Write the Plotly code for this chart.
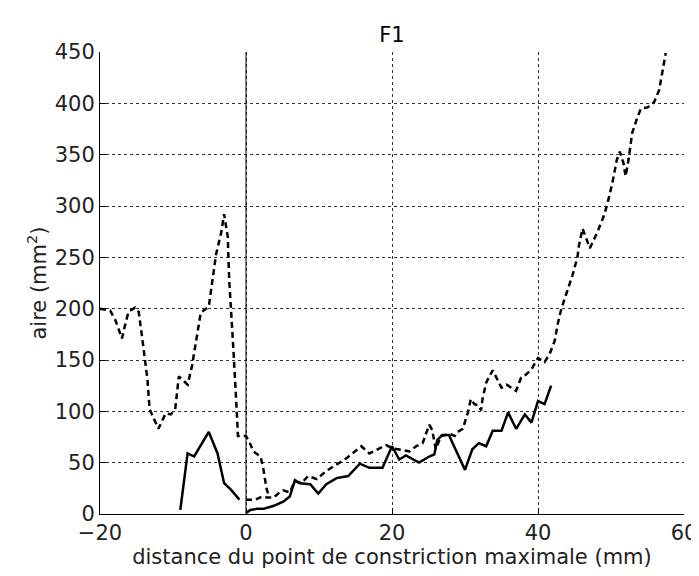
import plotly.graph_objects as go

# courbe pointillée, côté négatif (jusqu'à la jonction vers x=3)
x_tirets_a = [-20, -18.6, -17.9, -17, -16.6, -16.1, -15.2, -14.7, -14.3, -13.8, -13.5, -13.2,
              -12.0, -11.0, -10.3, -9.7, -9.2, -8.0, -7.4, -6.2, -5.1, -4.1, -3.4, -3.0,
              -2.5, -2.3, -2.1, -1.75, -1.4, -1.1, 0, 0.6, 1.0, 2.0, 2.4, 2.8, 3.2]
y_tirets_a = [200, 198, 189, 171, 183, 197, 201, 197, 176, 150, 131, 102,
              83, 98, 97, 102, 134, 126, 144, 196, 202, 253, 274, 292,
              270, 228, 199, 163, 118, 76, 76, 68, 61, 56, 43, 25, 16]

# courbe pointillée, côté positif
x_tirets_b = [0, 1.3, 2.2, 2.9, 3.8, 4.4, 5.1, 6.0, 6.7, 7.6, 8.5, 9.7, 11.0, 12.4, 13.5,
              14.6, 15.8, 16.9, 18.3, 19.2, 20.1, 21.0, 22.4, 23.3, 24.2, 25.1, 25.5,
              26.0, 26.7, 27.3, 27.9, 28.6, 28.8, 29.7, 30.4, 30.8, 31.3, 31.8, 32.2,
              32.4, 32.9, 33.8, 34.5, 35.0, 35.7, 36.3, 37.0, 37.7, 38.4, 39.1, 40.0,
              40.9, 41.6, 42.3, 42.7, 43.2, 44.0, 44.7, 45.4, 45.6, 46.1, 46.6, 47.1,
              48.1, 49.0, 49.5, 50.2, 50.8, 51.2, 51.7, 52.0, 52.4, 52.9, 53.6, 54.1,
              55.0, 55.9, 56.6, 57.0, 57.5]
y_tirets_b = [14, 14, 17, 16, 16, 20, 23, 21, 32, 30, 37, 34, 42, 48, 53,
              59, 66, 59, 64, 67, 64, 63, 61, 66, 69, 87, 82,
              63, 76, 77, 78, 76, 79, 83, 99, 112, 107, 106, 101,
              112, 128, 140, 130, 123, 126, 123, 120, 133, 136, 141, 152,
              148, 156, 169, 185, 200, 216, 232, 250, 261, 278, 268, 259,
              274, 290, 302, 323, 345, 353, 342, 329, 345, 371, 386, 395,
              396, 401, 413, 428, 449]

# courbe continue, côté négatif
x_plein_a = [-9.0, -8.0, -7.1, -5.1, -3.9, -3.0, -2.1, -0.9]
y_plein_a = [4, 59, 56, 80, 59, 30, 24, 14]

# courbe continue, côté positif
x_plein_b = [0, 0.6, 1.5, 2.4, 3.8, 5.1, 6.0, 6.7, 7.4, 8.8, 9.9, 11.0, 12.4, 14.0,
             15.6, 16.9, 18.7, 20.0, 21.0, 21.9, 23.7, 25.1, 25.8, 26.2, 26.9, 27.8,
             28.5, 30.0, 31.0, 31.9, 32.9, 33.8, 35.0, 35.9, 37.0, 38.2, 39.1, 40.0,
             40.9, 41.8]
y_plein_b = [1, 4, 5, 5, 8, 12, 17, 33, 30, 29, 20, 29, 35, 37,
             49, 45, 45, 66, 53, 57, 50, 56, 58, 72, 77, 77,
             66, 43, 63, 69, 66, 81, 81, 99, 83, 97, 89, 110,
             107, 125]

x_ticks = [-20, 0, 20, 40, 60]
y_ticks = [0, 50, 100, 150, 200, 250, 300, 350, 400, 450]

police = "DejaVu Sans"
tirets = dict(color="black", width=2.5, dash="6px,4px")
plein = dict(color="black", width=2.5)

fig = go.Figure()
fig.add_trace(go.Scatter(x=x_tirets_a, y=y_tirets_a, mode="lines", line=tirets))
fig.add_trace(go.Scatter(x=x_tirets_b, y=y_tirets_b, mode="lines", line=tirets))
fig.add_trace(go.Scatter(x=x_plein_a, y=y_plein_a, mode="lines", line=plein))
fig.add_trace(go.Scatter(x=x_plein_b, y=y_plein_b, mode="lines", line=plein))

# ligne verticale au point de constriction
fig.add_shape(type="line", x0=0, x1=0, y0=0, y1=450, xref="x", yref="y",
              line=dict(color="black", width=1))

axe = dict(showline=True, linecolor="black", linewidth=1, mirror=False,
           showgrid=True, gridcolor="#333333", gridwidth=1, griddash="3px,3px",
           zeroline=False, ticks="inside", ticklen=6, tickcolor="black",
           automargin=False,
           tickfont=dict(family=police, size=21, color="#222"))

# la page ajoute 8 px de marge autour de la figure : figure réduite d'autant
fig.update_layout(
    width=691, height=568,
    margin=dict(l=92, r=15, t=44, b=62),
    plot_bgcolor="white", paper_bgcolor="white",
    showlegend=False,
    title=dict(text="F1", x=0.5, xref="paper", xanchor="center",
               y=0.953, yanchor="middle",
               font=dict(family=police, size=21, color="black")),
    xaxis=dict(axe, range=[-20, 60], tickvals=x_ticks,
               title=dict(text="distance du point de constriction maximale (mm)",
                          font=dict(family=police, size=21, color="#222"), standoff=0)),
    yaxis=dict(axe, range=[0, 450], tickvals=y_ticks,
               title=dict(text="aire (mm<sup>2</sup>)",
                          font=dict(family=police, size=21, color="#222"), standoff=2)),
)

fig.write_html("out.html")
